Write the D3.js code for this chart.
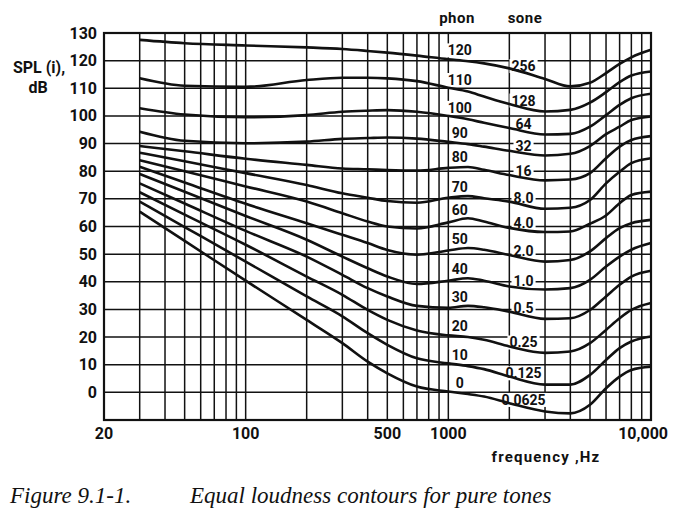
<!DOCTYPE html>
<html>
<head>
<meta charset="utf-8">
<script src="https://cdn.jsdelivr.net/npm/d3@7"></script>
<style>
  html, body { margin: 0; padding: 0; background: #fff; }
  svg { display: block; }
  .num { font-family: "Liberation Sans Narrow", Roboto, "DejaVu Sans", sans-serif; fill: #111; }
  .cap { font-family: "Liberation Serif", "Times New Roman", serif; font-style: italic; fill: #111; }
</style>
</head>
<body>
<svg id="chart" width="674" height="519"></svg>
<script>
// ---------------- data ----------------
const freqs = [30, 50, 100, 200, 300, 400, 500, 700, 1000, 1250, 1500, 2000, 3000, 4000, 5000, 6000, 7000, 8000, 10000];

const spl0   = [65.4, 54.8, 40.4, 26.2, 17.8, 11.1,  6.9,  2.1,  0.3, -0.6, -1.5, -3.9, -6.9, -7.6, -4.5,  1.5,  5.7,  8.1,  9.3];
const spl10  = [69.0, 59.8, 47.3, 34.7, 27.5, 21.4, 17.2, 12.3, 10.5,  9.5,  8.4,  5.7,  2.8,  2.8,  6.3, 11.7, 16.0, 18.4, 20.2];
const spl20  = [72.4, 64.3, 53.4, 41.9, 35.3, 29.8, 26.2, 22.4, 20.6, 20.0, 19.0, 16.6, 14.3, 14.8, 17.8, 22.6, 26.8, 29.8, 32.3];
const spl30  = [75.6, 68.3, 58.4, 49.1, 42.5, 37.7, 34.7, 31.3, 30.6, 31.3, 30.8, 29.2, 26.6, 26.8, 29.8, 34.7, 38.9, 41.9, 44.0];
const spl40  = [79.0, 72.6, 63.8, 55.2, 49.1, 44.9, 41.9, 39.2, 40.4, 41.3, 40.4, 38.3, 37.2, 37.7, 40.7, 45.5, 49.1, 51.6, 54.0];
const spl50  = [81.6, 75.9, 68.2, 61.2, 57.0, 54.0, 51.5, 49.8, 51.3, 52.2, 51.6, 49.7, 47.3, 47.9, 51.0, 55.8, 59.4, 61.2, 62.4];
const spl60  = [84.0, 80.0, 74.5, 69.0, 64.8, 61.8, 60.0, 59.3, 61.5, 63.0, 61.8, 59.5, 58.0, 58.2, 61.0, 64.0, 68.4, 71.4, 72.6];
const spl70  = [86.7, 83.6, 79.3, 75.0, 72.0, 70.4, 69.2, 68.6, 70.4, 71.0, 70.2, 69.0, 66.4, 66.8, 69.6, 75.6, 79.8, 82.9, 84.7];
const spl80  = [89.1, 87.2, 84.5, 82.3, 81.0, 80.7, 80.4, 80.2, 81.2, 81.5, 80.5, 78.6, 76.7, 77.0, 79.3, 84.7, 88.9, 91.3, 92.7];
const spl90  = [94.3, 91.0, 90.1, 90.7, 91.7, 92.0, 92.2, 91.8, 90.6, 89.8, 88.9, 87.4, 85.7, 86.3, 89.1, 93.4, 96.1, 98.5, 99.8];
const spl100 = [102.8, 100.5, 99.5, 100.3, 101.5, 101.9, 102.1, 101.5, 100.0, 98.8, 97.5, 95.6, 93.3, 93.5, 96.1, 100.3, 104.0, 106.4, 108.0];
const spl110 = [113.6, 110.9, 110.5, 113.0, 113.8, 113.8, 113.6, 112.6, 110.2, 108.8, 107.0, 104.3, 101.6, 102.2, 104.8, 108.6, 112.2, 114.6, 116.1];
const spl120 = [127.5, 126.3, 125.5, 124.8, 124.2, 123.5, 122.9, 121.8, 120.5, 119.8, 119.0, 117.2, 113.4, 110.7, 112.0, 115.5, 118.8, 121.2, 123.9];

const phonLevels = [0, 10, 20, 30, 40, 50, 60, 70, 80, 90, 100, 110, 120];
const soneLabels = ["0.0625", "0.125", "0.25", "0.5", "1.0", "2.0", "4.0", "8.0", "16", "32", "64", "128", "256"];
const curves = [spl0, spl10, spl20, spl30, spl40, spl50, spl60, spl70, spl80, spl90, spl100, spl110, spl120];

const yTicks = [0, 10, 20, 30, 40, 50, 60, 70, 80, 90, 100, 110, 120, 130];
const xTicks = [20, 100, 500, 1000, 10000];
const xTickLabels = ["20", "100", "500", "1000", "10,000"];

// ---------------- layout ----------------
const svg = d3.select("#chart");
const L = 104, R = 651, T = 33, B = 420;
const x = d3.scaleLog().domain([20, 10000]).range([L, R]);
const y = d3.scaleLinear().domain([-10, 130]).range([B, T]);
const ink = "#111";

// grid
const vGrid = [];
[10, 100, 1000].forEach(dec => { for (let k = 1; k <= 9; k++) { const f = dec * k; if (f >= 20 && f <= 10000) vGrid.push(f); } });
vGrid.push(10000);
const hGrid = d3.range(-10, 131, 10);

const g = svg.append("g");
g.selectAll("line.v").data(vGrid).join("line")
  .attr("x1", d => x(d)).attr("x2", d => x(d)).attr("y1", T).attr("y2", B)
  .attr("stroke", ink).attr("stroke-width", 1.5);
g.selectAll("line.h").data(hGrid).join("line")
  .attr("x1", L).attr("x2", R).attr("y1", d => y(d)).attr("y2", d => y(d))
  .attr("stroke", ink).attr("stroke-width", 1.5);
g.append("rect").attr("x", L).attr("y", T).attr("width", R - L).attr("height", B - T)
  .attr("fill", "none").attr("stroke", ink).attr("stroke-width", 2.2);

// value of a curve at frequency f (for label placement)
function valueAt(vals, f) {
  const lf = Math.log10(f);
  for (let i = 0; i < freqs.length - 1; i++) {
    const a = Math.log10(freqs[i]), b = Math.log10(freqs[i + 1]);
    if (lf >= a && lf <= b) { const t = (lf - a) / (b - a); return vals[i] + t * (vals[i + 1] - vals[i]); }
  }
  return vals[vals.length - 1];
}

// labels with white background (drawn over grid, under curves)
const labG = svg.append("g");
function label(txt, cx, cy, size) {
  const t = labG.append("text").attr("class", "num").attr("x", cx).attr("y", cy)
    .attr("text-anchor", "middle").attr("dominant-baseline", "central")
    .attr("font-size", size).attr("font-weight", "bold").text(txt);
  const bb = t.node().getBBox();
  labG.insert("rect", "text").attr("x", bb.x - 2).attr("y", bb.y + 1).attr("width", bb.width + 4).attr("height", bb.height - 2)
    .attr("fill", "#fff");
}
const phonF = 1140, soneF = 2350;
curves.forEach((vals, i) => {
  label(String(phonLevels[i]), x(phonF), y(valueAt(vals, phonF)) - 10, 14);
  label(soneLabels[i], x(soneF), y(valueAt(vals, soneF)) - 6.5, 14);
});

// curves
const line = d3.line().x((d, i) => x(freqs[i])).y(d => y(d)).curve(d3.curveMonotoneX);
svg.append("g").selectAll("path").data(curves).join("path")
  .attr("d", d => line(d)).attr("fill", "none").attr("stroke", ink)
  .attr("stroke-width", 2.6).attr("stroke-linejoin", "round");

// axis tick labels
svg.append("g").selectAll("text").data(yTicks).join("text")
  .attr("class", "num").attr("x", 97).attr("y", d => y(d)).attr("text-anchor", "end")
  .attr("dominant-baseline", "central").attr("font-size", 16).attr("font-weight", "bold").text(d => d);
svg.append("g").selectAll("text").data(xTicks).join("text")
  .attr("class", "num").attr("x", (d, i) => i === xTicks.length - 1 ? 668 : x(d)).attr("y", 439)
  .attr("text-anchor", (d, i) => i === xTicks.length - 1 ? "end" : "middle")
  .attr("font-size", 16).attr("font-weight", "bold").text((d, i) => xTickLabels[i]);

// titles
svg.append("text").attr("class", "num").attr("x", 39).attr("y", 73).attr("text-anchor", "middle")
  .attr("font-size", 16).attr("font-weight", "bold").text("SPL (i),");
svg.append("text").attr("class", "num").attr("x", 38).attr("y", 93).attr("text-anchor", "middle")
  .attr("font-size", 16).attr("font-weight", "bold").text("dB");
svg.append("text").attr("class", "num").attr("x", 457).attr("y", 23).attr("text-anchor", "middle")
  .attr("font-size", 15).attr("font-weight", "bold").attr("letter-spacing", 0.5).text("phon");
svg.append("text").attr("class", "num").attr("x", 525).attr("y", 23).attr("text-anchor", "middle")
  .attr("font-size", 15).attr("font-weight", "bold").attr("letter-spacing", 0.5).text("sone");
svg.append("text").attr("class", "num").attr("x", 546).attr("y", 462).attr("text-anchor", "middle")
  .attr("font-size", 15).attr("font-weight", "bold").attr("letter-spacing", 1.2).text("frequency ,Hz");

// caption
svg.append("text").attr("class", "cap").attr("x", 10).attr("y", 503).attr("font-size", 23).text("Figure 9.1-1.");
svg.append("text").attr("class", "cap").attr("x", 190).attr("y", 503).attr("font-size", 23).text("Equal loudness contours for pure tones");
</script>
</body>
</html>
